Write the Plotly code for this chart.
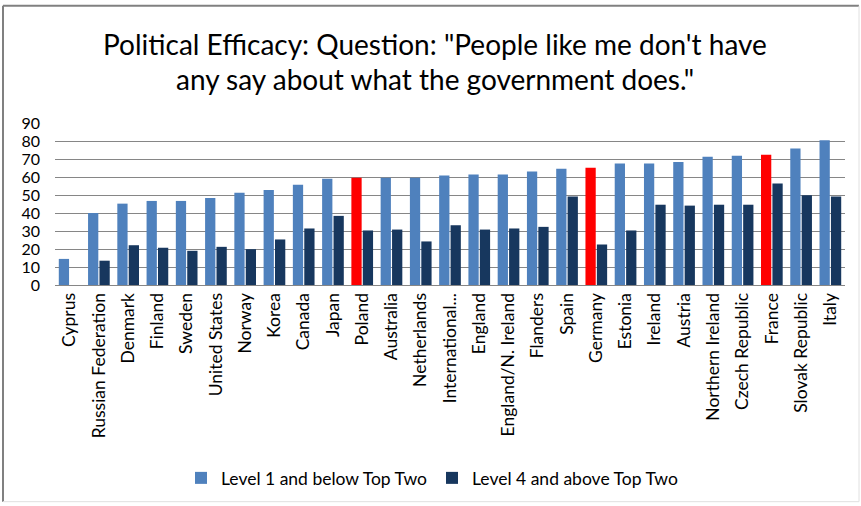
import plotly.graph_objects as go

countries = ["Cyprus", "Russian Federation", "Denmark", "Finland", "Sweden", "United States",
             "Norway", "Korea", "Canada", "Japan", "Poland", "Australia", "Netherlands",
             "International...", "England", "England/N. Ireland", "Flanders", "Spain", "Germany",
             "Estonia", "Ireland", "Austria", "Northern Ireland", "Czech Republic", "France",
             "Slovak Republic", "Italy"]
level1_below = [14.5, 40, 45.2, 46.7, 46.7, 48.3, 51.3, 52.8, 55.7, 59.0, 59.6, 59.6, 59.6,
                60.9, 61.4, 61.4, 63.1, 64.6, 65.1, 67.5, 67.5, 68.3, 71.2, 71.8, 72.3, 75.8, 80.4]
level4_above = [None, 13.5, 22.1, 20.7, 19.0, 21.2, 19.9, 25.3, 31.4, 38.4, 30.3, 30.8, 24.2,
                33.2, 30.8, 31.4, 32.3, 49.1, 22.5, 30.3, 44.6, 44.1, 44.6, 44.6, 56.4, 49.8, 49.1]
highlight = ["Poland", "Germany", "France"]
y_ticks = [0, 10, 20, 30, 40, 50, 60, 70, 80, 90]

LIGHT = "#4F81BD"
DARK = "#17375E"
RED = "#FF0000"
FONT = "Lato"

light_colors = [RED if c in highlight else LIGHT for c in countries]

fig = go.Figure()
fig.add_trace(go.Bar(x=countries, y=level1_below, name="Level 1 and below Top Two",
                     marker=dict(color=light_colors, line=dict(width=0))))
fig.add_trace(go.Bar(x=countries, y=level4_above, name="Level 4 and above Top Two",
                     marker=dict(color=DARK, line=dict(width=0))))

W, H = 861, 506
L, R, T, B = 55, 16, 123, 220
pw = W - L - R
ph = H - T - B

def px_x(p):
    return (p - L) / pw

def px_y(p):
    return (H - B - p) / ph

fig.update_layout(
    width=W, height=H,
    margin=dict(l=L, r=R, t=T, b=B),
    paper_bgcolor="white", plot_bgcolor="white",
    barmode="group", bargap=0.22, bargroupgap=0.1,
    font=dict(family=FONT, color="#000000", size=17),
    showlegend=True,
    legend=dict(orientation="h", x=px_x(432), xanchor="center", y=px_y(478), yanchor="middle",
                font=dict(size=17.5, family=FONT), traceorder="normal",
                itemwidth=30, bgcolor="rgba(0,0,0,0)"),
    xaxis=dict(tickangle=-90, tickfont=dict(size=17.5, family=FONT), showgrid=False,
               showline=True, linecolor="#868686", linewidth=1, ticks="", automargin=False),
    yaxis=dict(range=[0, 90], tickvals=y_ticks, tickfont=dict(size=16, family=FONT),
               showgrid=True, gridcolor="#868686", gridwidth=1, zeroline=False,
               showline=False, ticks="", automargin=False, ticklabelstandoff=14),
    annotations=[
        dict(text="Political Efficacy: Question: \"People like me don't have", xref="paper",
             yref="paper", x=px_x(435), y=px_y(44), xanchor="center", yanchor="middle",
             showarrow=False, font=dict(size=28, family=FONT)),
        dict(text="any say about what the government does.\"", xref="paper",
             yref="paper", x=px_x(435), y=px_y(79), xanchor="center", yanchor="middle",
             showarrow=False, font=dict(size=28, family=FONT)),
    ],
    shapes=[
        dict(type="line", xref="paper", yref="paper", x0=px_x(3), x1=px_x(859), y0=px_y(5), y1=px_y(5),
             line=dict(color="#808080", width=2)),
        dict(type="line", xref="paper", yref="paper", x0=px_x(3), x1=px_x(3), y0=px_y(5), y1=px_y(504),
             line=dict(color="#808080", width=2)),
        dict(type="line", xref="paper", yref="paper", x0=px_x(859), x1=px_x(859), y0=px_y(5), y1=px_y(504),
             line=dict(color="#E0E0E0", width=1)),
        dict(type="line", xref="paper", yref="paper", x0=px_x(3), x1=px_x(859), y0=px_y(504), y1=px_y(504),
             line=dict(color="#E0E0E0", width=1)),
    ],
)

fig.write_html("out.html", config={"displayModeBar": False},
               post_script="document.body.style.margin='0';document.body.style.overflow='hidden';")
